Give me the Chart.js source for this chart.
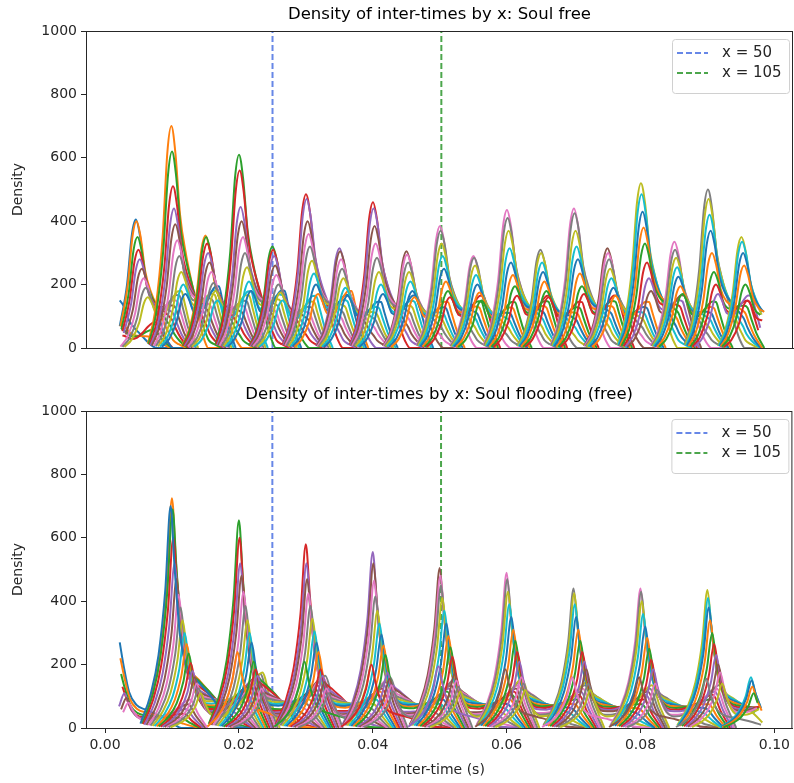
<!DOCTYPE html>
<html>
<head>
<meta charset="utf-8">
<script src="https://cdn.jsdelivr.net/npm/chart.js@4.4.1/dist/chart.umd.min.js"></script>
<style>
  body { margin: 0; background: #fff; }
  .wrap { position: absolute; left: 0; width: 794px; }
  #top { top: 0; height: 362px; }
  #bottom { top: 380px; height: 403px; }
</style>
</head>
<body>
<div class="wrap" id="top"><canvas id="topChart" width="794" height="362"></canvas></div>
<div class="wrap" id="bottom"><canvas id="bottomChart" width="794" height="403"></canvas></div>
<script>
// matplotlib tab10 cycle
const tab10 = ['#1f77b4', '#ff7f0e', '#2ca02c', '#d62728', '#9467bd', '#8c564b', '#e377c2', '#7f7f7f', '#bcbd22', '#17becf'];

const xTicks = [0, 0.02, 0.04, 0.06, 0.08, 0.10];
const yTicks = [0, 200, 400, 600, 800, 1000];
const xRange = [-0.00284, 0.10269];

const vlineX = [0.025, 0.0502];
const vlineLabels = ['x = 50', 'x = 105'];
const vlineColors = ['rgba(65,105,225,0.8)', 'rgba(0,128,0,0.7)'];

// Soul free: peak position of each group and the fan of peak heights (tallest first)
const topGroupX = [0.0022, 0.0046, 0.0099, 0.0150, 0.0200, 0.0250, 0.0300, 0.0350, 0.0400, 0.0450,
                   0.0500, 0.0550, 0.0600, 0.0650, 0.0700, 0.0750, 0.0800, 0.0850, 0.0900, 0.0950];
const topFan = [
  [150, 80, 60, 40],
  [405, 400, 350, 310, 280, 250, 220, 190, 160],
  [700, 620, 510, 440, 390, 340, 290, 240, 200, 170],
  [355, 350, 330, 300, 270, 240, 205, 180, 150],
  [610, 560, 445, 400, 350, 300, 255, 210, 180],
  [320, 310, 290, 260, 230, 200, 175, 150],
  [485, 470, 400, 360, 320, 275, 235, 200, 170],
  [315, 305, 280, 250, 220, 190, 165],
  [460, 440, 385, 330, 285, 240, 200, 170],
  [305, 295, 270, 240, 210, 180, 160],
  [385, 370, 330, 290, 250, 210, 180, 160],
  [290, 285, 260, 230, 200, 175, 150],
  [435, 410, 370, 315, 270, 230, 195, 165],
  [310, 300, 270, 240, 210, 180, 160],
  [440, 425, 370, 320, 280, 235, 195, 170],
  [315, 300, 280, 250, 220, 190, 165],
  [520, 485, 430, 380, 330, 270, 220, 180],
  [335, 310, 285, 255, 225, 195, 170],
  [500, 470, 420, 370, 300, 240, 200, 170],
  [350, 335, 300, 260, 200, 150]
];
const topLead = [0, 0, 1, 1, 2, 2, 3, 4, 3, 5, 6, 6, 6, 7, 6, 5, 8, 6, 7, 8];
const topShift = [0, 0.0001, 0.00025, 0.0004, 0.0006, 0.0009, 0.0012, 0.0015, 0.0018, 0.0021];
// second bump of each fan member, toward the next group
const topSec = [0, 30, 55, 80, 100, 120, 140, 160, 175, 190];
const topShapeDx = [-0.0035, -0.0024, -0.0013, -0.0006, 0, 0.0006, 0.0013, 0.0022, 0.0030, 0.0038, 0.0045, 0.0050, 0.0055, 0.0063, 0.0075];
const topMain = [0.02, 0.17, 0.5, 0.88, 1, 0.88, 0.6, 0.42, 0.3, 0.18, 0.08, 0.03, 0, 0, 0];
const topSecY = [0, 0, 0, 0, 0, 0, 0.05, 0.2, 0.45, 0.75, 0.95, 1, 0.8, 0.4, 0];
const topClip = [0.0021, 0.0985];

// Soul flooding (free)
const botGroupX = [0.0022, 0.0100, 0.0200, 0.0300, 0.0400, 0.0500, 0.0600, 0.0700, 0.0800, 0.0900, 0.0965];
const botFan = [
  [270, 220, 170, 130, 110, 95, 80],
  [725, 690, 600, 520, 470, 420, 380, 340, 300, 700, 265, 235, 205, 180, 160, 140, 125, 110],
  [655, 600, 520, 480, 430, 385, 340, 300, 270, 240, 210, 185, 165, 145, 125, 110],
  [580, 520, 470, 425, 385, 345, 305, 270, 240, 210, 185, 165, 145, 125, 110],
  [555, 520, 465, 415, 370, 330, 295, 260, 230, 200, 175, 155, 135, 115],
  [505, 480, 450, 410, 370, 330, 290, 255, 225, 195, 170, 150, 130, 115],
  [490, 470, 430, 390, 350, 310, 275, 240, 210, 185, 160, 140, 120],
  [440, 425, 390, 350, 310, 275, 240, 210, 185, 160, 140, 120],
  [440, 430, 400, 360, 320, 285, 250, 215, 185, 160, 140, 120],
  [435, 410, 380, 340, 300, 265, 230, 200, 175, 155, 140],
  [160, 150, 130, 110]
];
const botLead = [0, 1, 2, 3, 4, 5, 6, 7, 6, 8, 9];
const botShift = [0, 0.0001, 0.0002, 0.0004, 0.0007, 0.001, 0.0013, 0.0016, 0.0019, -0.0002,
                  0.0022, 0.0025, 0.0028, 0.0031, 0.0034, 0.0037, 0.004, 0.0043];
const botSec = [0, 15, 30, 45, 60, 75, 90, 105, 115, 5, 125, 135, 145, 155, 160, 165, 170, 175];
const botShapeDx = [-0.0045, -0.003, -0.0018, -0.0008, 0, 0.0006, 0.0014, 0.0025, 0.004, 0.0055, 0.007, 0.0082, 0.0092, 0.0104, 0.0118];
const botMain = [0.02, 0.15, 0.33, 0.62, 1, 0.72, 0.42, 0.27, 0.21, 0.16, 0.1, 0.04, 0, 0, 0];
const botSecY = [0, 0, 0, 0, 0, 0, 0, 0.03, 0.12, 0.3, 0.55, 0.85, 1, 0.5, 0];
const botClip = [0.0021, 0.0982];

const FONT = '"DejaVu Sans", sans-serif';
const INK = '#262626';

function buildCurves(groupX, fan, lead, shift, sec, shapeDx, main, secY, clip) {
  const sets = [];
  groupX.forEach((gx, g) => {
    fan[g].forEach((h, j) => {
      const p = gx + shift[j];
      const pts = shapeDx.map((d, k) => ({ x: p + d, y: h * main[k] + sec[j] * secY[k] }))
        .filter(pt => pt.x >= clip[0] && pt.x <= clip[1]);
      sets.push({
        data: pts,
        borderColor: tab10[(lead[g] + j) % 10],
        borderWidth: 2,
        pointRadius: 0,
        fill: false,
        cubicInterpolationMode: 'monotone'
      });
    });
  });
  // later curves on top, like matplotlib
  sets.forEach((s, i) => { s.order = sets.length - i; });
  const vlines = vlineX.map((vx, i) => ({
    label: vlineLabels[i],
    data: [{ x: vx, y: 0 }, { x: vx, y: 1000 }],
    borderColor: vlineColors[i],
    borderWidth: 2,
    borderDash: [6, 3],
    pointRadius: 0,
    fill: false,
    order: sets.length + 10
  }));
  return vlines.concat(sets);
}

const decorPlugin = {
  id: 'decor',
  afterDatasetsDraw(chart, args, opts) {
    const ctx = chart.ctx, a = chart.chartArea;
    ctx.save();
    // legend box
    const bw = 117, bh = 54;
    const bx = a.right - bw - 4, by = a.top + 8;
    ctx.fillStyle = 'rgba(255,255,255,0.85)';
    ctx.strokeStyle = '#d0d0d0';
    ctx.lineWidth = 1;
    ctx.beginPath();
    ctx.roundRect(bx + 0.5, by + 0.5, bw, bh, 3);
    ctx.fill();
    ctx.stroke();
    vlineLabels.forEach((lab, i) => {
      const y = by + 14 + i * 20;
      ctx.strokeStyle = vlineColors[i];
      ctx.lineWidth = 2;
      ctx.setLineDash([6, 3]);
      ctx.beginPath();
      ctx.moveTo(bx + 5, y);
      ctx.lineTo(bx + 36, y);
      ctx.stroke();
      ctx.setLineDash([]);
      ctx.fillStyle = INK;
      ctx.font = '15px ' + FONT;
      ctx.textBaseline = 'middle';
      ctx.textAlign = 'left';
      ctx.fillText(lab, bx + 50, y);
    });
    ctx.restore();
  },
  afterDraw(chart, args, opts) {
    const ctx = chart.ctx, a = chart.chartArea;
    ctx.save();
    ctx.strokeStyle = INK;
    ctx.lineWidth = 1;
    ctx.strokeRect(a.left + 0.5, a.top + 0.5, a.right - a.left - 1, a.bottom - a.top);
    ctx.fillStyle = '#000';
    ctx.textAlign = 'center';
    ctx.textBaseline = 'middle';
    ctx.font = '16.5px ' + FONT;
    ctx.fillText(opts.title, (a.left + a.right) / 2, a.top - 16);
    ctx.fillStyle = INK;
    ctx.font = '14px ' + FONT;
    ctx.save();
    ctx.translate(18, (a.top + a.bottom) / 2);
    ctx.rotate(-Math.PI / 2);
    ctx.fillText('Density', 0, 0);
    ctx.restore();
    if (opts.xlabel) {
      ctx.fillText(opts.xlabel, (a.left + a.right) / 2, a.bottom + 42);
    }
    ctx.restore();
  }
};

function makeChart(id, datasets, title, xlabel, xAxisHeight) {
  return new Chart(document.getElementById(id), {
    type: 'line',
    data: { datasets: datasets },
    options: {
      responsive: false,
      animation: false,
      devicePixelRatio: 1,
      layout: { padding: { top: 31, right: 1, left: 0, bottom: 0 } },
      plugins: {
        legend: { display: false },
        tooltip: { enabled: false },
        decor: { title: title, xlabel: xlabel }
      },
      scales: {
        x: {
          type: 'linear',
          min: xRange[0],
          max: xRange[1],
          afterBuildTicks: s => { s.ticks = xTicks.map(v => ({ value: v })); },
          afterFit: s => { s.height = xAxisHeight; },
          grid: { display: !!xlabel, drawOnChartArea: false, tickLength: 5, color: INK },
          border: { color: INK, width: 1 },
          ticks: {
            display: !!xlabel,
            padding: 4,
            color: INK,
            font: { family: FONT, size: 14 },
            callback: v => v.toFixed(2)
          }
        },
        y: {
          min: 0,
          max: 1000,
          afterBuildTicks: s => { s.ticks = yTicks.map(v => ({ value: v })); },
          afterFit: s => { s.width = 86; },
          grid: { drawOnChartArea: false, tickLength: 5, color: INK },
          border: { color: INK, width: 1 },
          ticks: { padding: 4, color: INK, font: { family: FONT, size: 14 }, callback: v => String(v) }
        }
      }
    },
    plugins: [decorPlugin]
  });
}

makeChart('topChart',
  buildCurves(topGroupX, topFan, topLead, topShift, topSec, topShapeDx, topMain, topSecY, topClip),
  'Density of inter-times by x: Soul free', null, 14);
makeChart('bottomChart',
  buildCurves(botGroupX, botFan, botLead, botShift, botSec, botShapeDx, botMain, botSecY, botClip),
  'Density of inter-times by x: Soul flooding (free)', 'Inter-time (s)', 55);
</script>
</body>
</html>
